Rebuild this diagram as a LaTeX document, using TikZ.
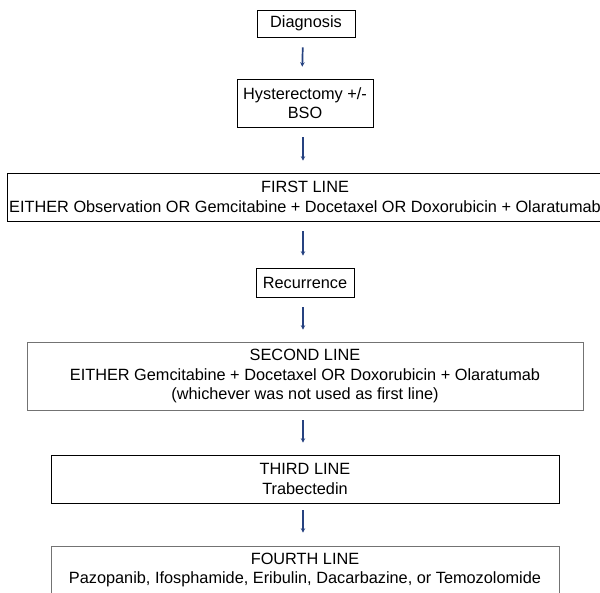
\documentclass[tikz,border=0pt]{standalone}
\usepackage{fontspec}
\setmainfont{Liberation Sans}
\usetikzlibrary{arrows.meta,positioning}

\begin{document}
\begin{tikzpicture}[x=1pt,y=-1pt,>=Stealth,
  box/.style={draw,semithick,inner sep=1pt,align=center,font=\fontsize{16.3}{19.5}\selectfont},
  greybox/.style={box,draw=black!55},
  flow/.style={line width=1.7pt,draw={rgb,255:red,38;green,66;blue,128},
    shorten <=10pt,shorten >=12pt,-{Stealth[length=4.5pt,width=4.5pt]}}]
\useasboundingbox (0,0) rectangle (600,593);
\node[box,minimum width=98,minimum height=27] (diag) at (306,23.5) {Diagnosis};
\node[box,minimum width=136,minimum height=48] (hyst) at (305,103) {Hysterectomy +/-\\BSO};
\node[box,minimum width=596,minimum height=48] (first) at (305,197)
  {FIRST LINE\\EITHER Observation OR Gemcitabine + Docetaxel OR Doxorubicin + Olaratumab};
\node[box,minimum width=98,minimum height=29] (recur) at (305,282.5) {Recurrence};
\node[greybox,minimum width=556,minimum height=68] (second) at (305,376)
  {SECOND LINE\\EITHER Gemcitabine + Docetaxel OR Doxorubicin + Olaratumab\\(whichever was not used as first line)};
\node[box,minimum width=508,minimum height=48] (third) at (305,479) {THIRD LINE\\Trabectedin};
\node[greybox,minimum width=508,minimum height=48] (fourth) at (305,570)
  {FOURTH LINE\\Pazopanib, Ifosphamide, Eribulin, Dacarbazine, or Temozolomide};
% arrows
\draw[flow] ([xshift=-3]diag.south) -- ([xshift=-3]hyst.north);
\draw[flow] ([xshift=-2]hyst.south) -- ([xshift=-2]first.north);
\draw[flow] ([xshift=-2]first.south) -- ([xshift=-2]recur.north);
\draw[flow] ([xshift=-2]recur.south) -- ([xshift=-2]second.north);
\draw[flow] ([xshift=-2]second.south) -- ([xshift=-2]third.north);
\draw[flow,shorten <=7pt,shorten >=13pt] ([xshift=-2]third.south) -- ([xshift=-2]fourth.north);
\end{tikzpicture}
\end{document}
